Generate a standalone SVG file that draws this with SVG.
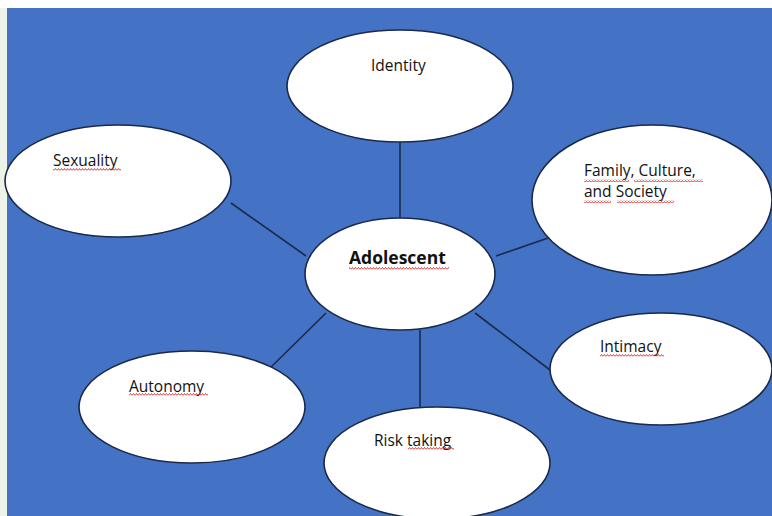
<svg xmlns="http://www.w3.org/2000/svg" width="772" height="516" viewBox="0 0 772 516">
<style>
.bg{fill:#4472C4}
.node ellipse{fill:#ffffff;stroke:#1b2a4a;stroke-width:1.6}
.conn line{stroke:#1b2a4a;stroke-width:1.6}
text{font-family:"Open Sans","Liberation Sans",sans-serif;font-size:15.5px;fill:#111}
.bold{font-weight:bold;font-size:17.5px}
</style>
<defs>
<pattern id="wave" x="0" y="0" width="3" height="3" patternUnits="userSpaceOnUse">
<path d="M0,2.5 L1.5,0.5 L3,2.5" fill="none" stroke="#d42a2a" stroke-width="0.9"/>
</pattern>
</defs>
<rect x="0" y="0" width="772" height="516" fill="#ffffff"/>
<rect x="0" y="8" width="7" height="508" fill="#eef3ea"/>
<rect class="bg" x="7" y="8" width="765" height="508"/>
<g class="conn">
<line x1="400" y1="142" x2="400" y2="218"/>
<line x1="231" y1="203" x2="306" y2="256"/>
<line x1="496" y1="256" x2="551" y2="237"/>
<line x1="475" y1="313" x2="550" y2="370"/>
<line x1="326" y1="313" x2="268" y2="370"/>
<line x1="420" y1="330" x2="420" y2="408"/>
</g>
<g id="identity" class="node">
<ellipse cx="400" cy="86" rx="113" ry="56"/>
<text x="371" y="71">Identity</text>
</g>
<g id="sexuality" class="node">
<ellipse cx="118" cy="181" rx="113" ry="56"/>
<text x="53" y="166">Sexuality</text>
<rect x="53" y="168" width="68" height="3" fill="url(#wave)"/>
</g>
<g id="family" class="node">
<ellipse cx="652" cy="200" rx="120" ry="75"/>
<text x="584" y="176">Family, Culture,</text>
<text x="584" y="197">and Society</text>
<rect x="584" y="179" width="45" height="3" fill="url(#wave)"/>
<rect x="634" y="179" width="69" height="3" fill="url(#wave)"/>
<rect x="584" y="200" width="27" height="3" fill="url(#wave)"/>
<rect x="617" y="200" width="57" height="3" fill="url(#wave)"/>
</g>
<g id="adolescent" class="node">
<ellipse cx="400" cy="274" rx="95" ry="56"/>
<text class="bold" x="349" y="264">Adolescent</text>
<rect x="349" y="267" width="100" height="3" fill="url(#wave)"/>
</g>
<g id="intimacy" class="node">
<ellipse cx="661" cy="369" rx="111" ry="56"/>
<text x="600" y="352">Intimacy</text>
<rect x="600" y="354" width="64" height="3" fill="url(#wave)"/>
</g>
<g id="autonomy" class="node">
<ellipse cx="192" cy="407" rx="113" ry="56"/>
<text x="129" y="392">Autonomy</text>
<rect x="129" y="393" width="79" height="3" fill="url(#wave)"/>
</g>
<g id="risk" class="node">
<ellipse cx="437" cy="463" rx="113" ry="56"/>
<text x="374" y="446">Risk taking</text>
<rect x="408" y="447" width="46" height="3" fill="url(#wave)"/>
</g>
</svg>
